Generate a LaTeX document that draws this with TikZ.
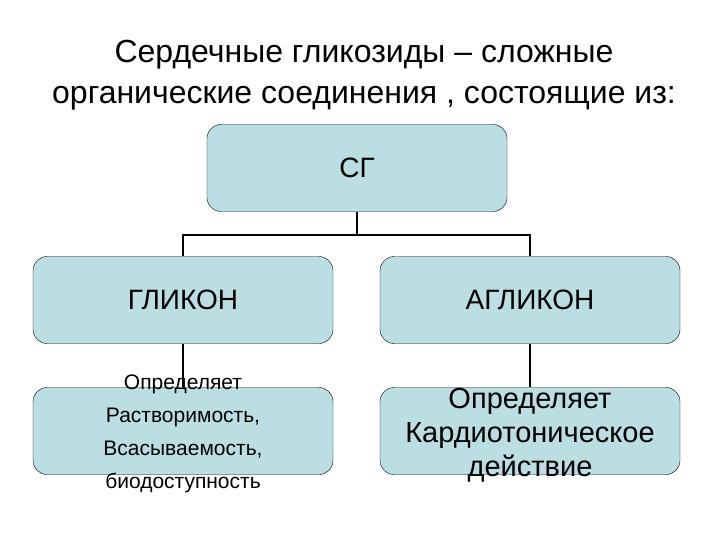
\documentclass[tikz,border=0pt]{standalone}
\usepackage{fontspec}
\setmainfont{Liberation Sans}
\begin{document}
\begin{tikzpicture}[x=1pt, y=-1pt,
    box/.style={draw, thin, fill=boxfill, rounded corners=14pt, minimum width=300pt, minimum height=87pt, align=center},
    note/.style={align=center, inner sep=0pt},
    link/.style={line width=1.6pt}]
    \definecolor{boxfill}{RGB}{186,222,226}
    
    \useasboundingbox (0,0) rectangle (720,540);
    \node[align=center, font=\fontsize{32}{41}\selectfont] (title) at (364,75)
        {Сердечные гликозиды -- сложные\\органические соединения , состоящие из:};
    
    \node[box, font=\fontsize{28}{32}\selectfont] (sg) at (357,168) {СГ};
    \node[box, font=\fontsize{28}{32}\selectfont] (glikon) at (183,300) {ГЛИКОН};
    \node[box, font=\fontsize{28}{32}\selectfont] (aglikon) at (530,300) {АГЛИКОН};
    \node[box] (glikonnote) at (183,431) {};
    \node[box] (aglikonnote) at (530,431) {};
    
    \draw[link] (sg.south) -- ++(0,23) coordinate (fork);
    \draw[link] (glikon.north) |- (fork) -| (aglikon.north);
    \draw[link] (glikon.south) -- (glikonnote.north);
    \draw[link] (aglikon.south) -- (aglikonnote.north);
    
    \node[note, font=\fontsize{21}{33}\selectfont] (glikontext) at ([yshift=-3pt]glikonnote.center)
        {Определяет\\Растворимость,\\Всасываемость,\\биодоступность};
    \node[note, font=\fontsize{29}{34}\selectfont] (aglikontext) at ([yshift=-4pt]aglikonnote.center)
        {Определяет\\Кардиотоническое\\действие};
   
\end{tikzpicture}
\end{document}
